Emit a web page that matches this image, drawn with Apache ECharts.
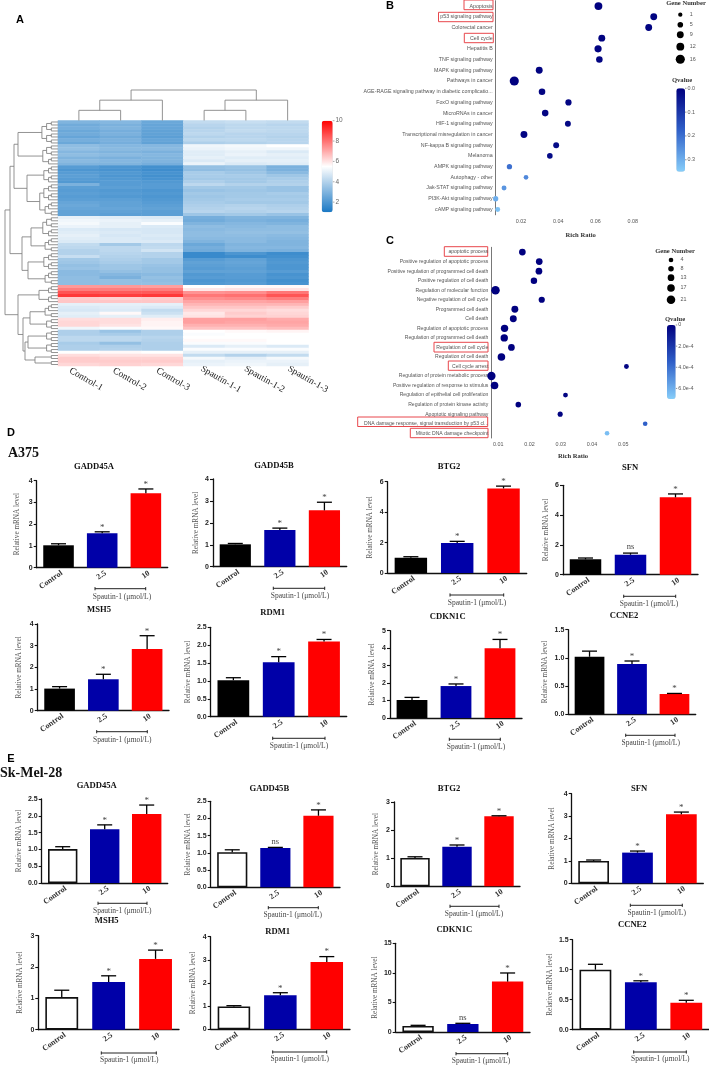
<!DOCTYPE html>
<html><head><meta charset="utf-8">
<style>html,body{margin:0;padding:0;background:#fff}#c{width:709px;height:1065px}</style>
<script src="https://cdn.jsdelivr.net/npm/echarts@6/dist/echarts.min.js"></script>
</head><body><div id="c"></div>
<script>
// ---------- DATA ----------
const heatColumns = ['Control-1','Control-2','Control-3','Spautin-1-1','Spautin-1-2','Spautin-1-3'];
const heatRows = [
[3.0,3.1,2.6,4.3,4.4,4.3],[2.7,2.9,2.5,4.1,4.2,4.1],[2.8,3.0,2.5,4.0,4.2,4.2],[2.6,2.8,2.4,4.1,4.3,4.2],
[2.7,2.9,2.4,4.2,4.1,4.1],[2.5,2.7,2.3,4.0,4.1,4.0],[2.8,2.9,2.5,4.2,4.2,4.1],[2.6,2.8,2.4,3.9,4.0,4.1],
[3.3,3.1,3.1,5.2,5.3,5.5],[3.4,3.2,3.2,5.1,5.2,5.2],[3.1,3.0,2.9,4.9,5.0,4.8],[3.3,3.2,3.1,4.9,5.1,5.0],
[3.0,2.9,3.0,5.0,4.9,4.9],[3.2,3.1,3.0,4.8,5.0,5.0],[3.0,3.0,2.8,5.1,4.8,4.9],[2.2,2.0,1.8,3.4,3.5,2.9],
[2.0,1.9,1.7,3.3,3.4,2.9],[2.2,2.1,1.9,3.8,3.6,3.2],[2.3,2.0,1.8,3.8,3.8,3.6],[2.2,2.1,1.9,3.7,3.7,3.8],
[2.1,2.2,2.1,3.9,3.7,3.9],[2.9,2.2,2.2,4.2,4.0,4.0],[2.3,2.3,2.2,3.7,3.7,3.5],[2.2,2.1,2.0,3.5,3.6,3.5],
[2.3,2.2,2.1,3.7,3.7,3.8],[2.2,2.1,2.0,3.6,3.7,3.7],[2.3,2.3,2.1,3.7,3.8,3.8],[2.5,2.4,2.2,3.8,3.7,3.7],
[2.6,2.4,2.3,3.9,4.0,3.9],[2.5,2.5,2.4,4.0,4.1,4.0],[2.4,2.4,2.3,4.1,4.0,4.1],[2.4,2.3,2.3,3.6,3.7,3.5],
[5.0,4.9,4.8,2.8,3.0,3.0],[5.2,5.1,5.0,2.7,2.9,2.8],[5.3,5.0,5.4,3.0,3.1,3.0],[5.1,5.0,4.8,3.3,3.2,3.3],
[4.8,4.7,4.7,3.2,3.3,3.3],[4.9,4.8,4.7,3.3,3.4,3.4],[5.0,4.7,4.8,3.3,3.3,3.2],[4.9,4.8,4.7,3.2,3.2,3.1],
[4.8,4.8,4.8,3.0,3.2,3.0],[4.3,3.7,4.2,2.6,3.0,3.0],[4.2,4.2,4.3,2.8,3.1,3.1],[4.0,4.2,4.6,2.7,3.0,2.9],
[4.0,4.1,4.0,1.6,2.0,1.7],[4.4,4.0,4.0,1.6,1.7,1.8],[3.7,3.9,3.7,2.2,2.4,2.0],[3.6,3.8,3.7,2.4,2.5,2.1],
[3.4,3.6,3.5,2.3,2.4,2.0],[3.5,3.6,3.4,2.2,2.3,2.0],[3.2,3.4,3.4,2.4,2.4,2.2],[3.2,3.1,3.2,2.1,2.2,1.9],
[3.3,2.9,3.4,2.2,2.2,2.0],[3.3,3.4,3.3,2.0,2.1,1.8],[3.3,3.4,3.4,2.1,2.2,1.9],[7.3,7.3,7.2,5.5,5.6,5.6],
[7.8,7.8,7.8,5.9,6.0,6.0],[8.5,8.4,8.4,7.4,7.5,7.9],[9.0,8.9,9.0,7.9,8.0,8.5],[6.4,6.3,6.4,7.5,7.6,7.8],
[6.5,6.5,6.5,7.1,7.1,7.2],[5.0,5.0,5.0,6.8,6.8,6.8],[4.8,4.9,4.8,6.5,6.5,6.4],[4.7,4.8,4.3,6.2,6.2,6.1],
[5.0,5.6,4.5,5.9,6.4,6.2],[4.9,5.0,4.9,6.0,6.3,6.3],[6.1,6.1,5.8,7.2,7.2,7.0],[6.2,6.1,5.7,7.2,7.1,7.1],
[6.2,6.0,5.7,6.9,6.9,7.0],[5.2,5.4,5.6,6.6,6.6,6.7],[3.9,3.5,3.9,5.5,5.6,5.7],[3.9,3.8,3.9,5.4,5.5,5.5],
[4.2,4.2,4.1,5.5,5.5,5.5],[4.2,4.2,4.0,5.6,5.6,5.5],[3.8,3.4,3.9,5.4,5.4,5.5],[3.9,3.9,3.9,4.8,5.0,4.8],
[3.9,4.0,3.9,5.4,5.4,5.4],[5.5,5.6,5.5,5.0,5.0,5.0],[6.1,6.0,6.0,4.3,4.0,4.3],[6.4,6.3,6.3,5.3,5.0,5.3],
[6.4,6.4,6.4,5.0,5.1,5.1],[6.2,6.3,6.2,5.1,5.2,5.0]];
// dendrogram trees: [height, left, right]; a two-item entry is a run of rows
const columnTree = [3,[2,[1,0,1],2],[2,[1,3,4],5]];
const rowTree = [53,
  [48,[44,[40,[0,7],[8,14]],[31,[15,20],[21,31]]],[36,[27,[32,38],[39,43]],[30,[44,49],[50,54]]]],
  [40,[19,[55,57],[58,60]],[35,[28,[61,65],[66,69]],[33,[30,[70,73],[74,77]],[23,[78,79],[80,81]]]]]];

const bCategories = ['Apoptosis','p53 signaling pathway','Colorectal cancer','Cell cycle','Hepatitis B','TNF signaling pathway','MAPK signaling pathway','Pathways in cancer','AGE-RAGE signaling pathway in diabetic complicatio...','FoxO signaling pathway','MicroRNAs in cancer','HIF-1 signaling pathway','Transcriptional misregulation in cancer','NF-kappa B signaling pathway','Melanoma','AMPK signaling pathway','Autophagy - other','Jak-STAT signaling pathway','PI3K-Akt signaling pathway','cAMP signaling pathway'];
const bRatio = [.0616,.0913,.0886,.0634,.0614,.0621,.0298,.0164,.0313,.0455,.0330,.0452,.0216,.0389,.0355,.0138,.0227,.0109,.0064,.0075];
const bGenes = [12,9,9,9,10,8,9,16,8,7,8,6,9,6,5,4,2,3,4,3];
const bQ = [.002,.005,.005,.003,.004,.008,.005,.002,.008,.01,.01,.015,.01,.02,.02,.2,.24,.26,.3,.33];
const bGeneLegend = [1,5,9,12,16];
const bQTicks = ['0.0','0.1','0.2','0.3'];

const cCategories = ['apoptotic process','Positive regulation of apoptotic process','Positive regulation of programmed cell death','Positive regulation of cell death','Regulation of molecular function','Negative regulation of cell cycle','Programmed cell death','Cell death','Regulation of apoptotic process','Regulation of programmed cell death','Regulation of cell cycle','Regulation of cell death','Cell cycle arrest','Regulation of protein metabolic process','Positive regulation of response to stimulus','Regulation of epithelial cell proliferation','Regulation of protein kinase activity','Apoptotic signaling pathway','DNA damage response, signal transduction by p53 cl...','Mitotic DNA damage checkpoint'];
const cRatio = [.0177,.0231,.0230,.0214,.0091,.0239,.0153,.0148,.0120,.0119,.0142,.0110,.0510,.0078,.0088,.0315,.0164,.0298,.0570,.0448];
const cGenes = [13,13,13,12,21,11,14,14,16,16,13,17,5,20,17,5,8,6,4,4];
const cQ = [0,0,0,0,0,0,0,0,0,0,0,0,.00002,0,0,.00002,0,.00001,.00035,.00065];
const cGeneLegend = [4,8,13,17,21];
const cQTicks = ['0','2.0e-4','4.0e-4','6.0e-4'];

const geneNames = ['GADD45A','GADD45B','BTG2','SFN','MSH5','RDM1','CDKN1C','CCNE2'];
const doseLabels = ['Control','2.5','10'];
const a375Means = [[1.03,1.58,3.42],[1.02,1.67,2.57],[1.01,1.97,5.56],[1.03,1.34,5.19],[1.02,1.45,2.85],[1.02,1.52,2.10],[1.03,1.83,3.99],[1.02,0.89,0.36]];
const a375Tops  = [[1.10,1.65,3.62],[1.06,1.76,2.94],[1.07,2.08,5.71],[1.12,1.45,5.42],[1.11,1.68,3.46],[1.09,1.68,2.16],[1.18,1.95,4.50],[1.12,0.945,0.37]];
const a375Marks = [['','*','*'],['','*','*'],['','*','*'],['','ns','*'],['','*','*'],['','*','*'],['','*','*'],['','*','*']];
const skMeans = [[1.01,1.60,2.05],[1.02,1.14,2.08],[1.01,1.41,2.49],[1.00,1.37,3.08],[1.04,1.52,2.26],[0.99,1.47,2.91],[1.02,1.35,8.52],[1.00,0.79,0.45]];
const skTops  = [[1.08,1.73,2.32],[1.09,1.16,2.25],[1.05,1.47,2.51],[1.04,1.44,3.18],[1.26,1.72,2.54],[1.02,1.58,3.14],[1.13,1.47,9.98],[1.09,0.815,0.49]];
const skMarks = [['','*','*'],['','ns','*'],['','*','*'],['','*','*'],['','*','*'],['','*','*'],['','ns','*'],['','*','*']];
const axisMax = [4,4,6,6,4,2.5,5,1.5, 2.5,2.5,3,4,3,4,15,1.5];
const axisStep = [1,1,2,2,1,.5,1,.5, .5,.5,1,1,1,1,5,.5];

// ---------- LAYOUT (pixels) ----------
// left, top, right, base, titleX, titleY, nameX, brX1, brX2, brY, capX, capY
const panelBox = [
[36.7,480.7,167.7,567.7, 94,467, 17, 95,145.7,588.7,122,597],
[213,479,346.7,566.7, 274,466, 196, 273.3,324.7,588.3,300,595.7],
[387.7,481.7,526.7,573, 449,467, 370, 450,503.7,595,477,603],
[563,485.3,698,574.7, 630,468, 546, 623.7,675.7,596.3,649,604],
[37.7,624,169,710.7, 99,610, 19, 96.7,147.3,731.7,122.3,740],
[210.7,627.3,346.7,716.7, 272.7,613, 188, 272.7,325,738.3,299,745.7],
[390,630.7,522,718, 447.7,616.7, 372, 449.3,500.3,739.3,476,747],
[568.3,629.7,695.7,714.3, 624,616, 545, 625.7,675,735.3,650.7,743.3],
[41.7,799,167.7,883, 96.7,785.3, 18.3, 98,147,903.3,122.3,911],
[210.7,801.3,340,887.3, 269.3,788.3, 187.3, 268.3,318.3,907.7,292.7,915.3],
[394,802,520,886.3, 449,789, 376, 450,499,906.3,474,913.7],
[571.7,793.7,703.3,883.3, 639,788.3, 551.7, 630.3,682.3,905.3,656.7,913],
[38.3,935.7,179,1029.7, 106.7,921, 20, 101.3,156.3,1053,129.3,1060.3],
[210.7,936.7,350,1029.3, 277.7,932, 192.3, 272.7,326.7,1052,299.7,1059.3],
[395.7,943.3,530,1032, 454.3,930, 374.3, 456,507.7,1053.7,481,1061.3],
[572.7,939.7,709,1029.7, 632.3,925, 550, 633.7,686.3,1052,660.3,1059.3]];

const serif = '"Liberation Serif",serif', sans = '"Liberation Sans",Arial,sans-serif';
const grids=[], xAxes=[], yAxes=[], series=[], visualMaps=[], graphics=[];
const text=(t,x,y,o={})=>graphics.push({type:'text',x,y,silent:true,rotation:o.rot||0,style:{text:t,x:0,y:0,fill:o.fill||'#222',
  font:(o.weight||'normal')+' '+(o.size||7)+'px '+(o.family||serif),textAlign:o.align||'center',textVerticalAlign:'middle'}});
const line=(x1,y1,x2,y2,c,w)=>graphics.push({type:'line',silent:true,shape:{x1,y1,x2,y2},style:{stroke:c||'#111',lineWidth:w||1}});
const redBox=(x1,y1,x2,y2)=>graphics.push({type:'rect',silent:true,shape:{x:x1,y:y1,width:x2-x1,height:y2-y1},style:{fill:'none',stroke:'#e8474c',lineWidth:1}});
function addGrid(l,t,r,b){grids.push({left:l,top:t,width:r-l,height:b-t,containLabel:false});return grids.length-1;}
const segRender=(w,c)=>(p,api)=>{const a=api.coord([api.value(0),api.value(1)]),b=api.coord([api.value(2),api.value(3)]);
  const fine=w.fine&&Math.max(api.value(w.hDims[0]),api.value(w.hDims[1]))<5;
  return {type:'line',shape:{x1:a[0],y1:a[1],x2:b[0],y2:b[1]},style:{stroke:fine?'#a0a0a0':c,lineWidth:fine?2.4:.85}};};

// ---------- A: heatmap ----------
const g0=addGrid(58,120.5,308.5,366);
xAxes.push({type:'category',gridIndex:g0,data:heatColumns,show:false});
yAxes.push({type:'category',gridIndex:g0,data:heatRows.map((_,i)=>i),inverse:true,show:false});
const heatData=[];heatRows.forEach((r,i)=>r.forEach((v,j)=>heatData.push([j,i,v])));
series.push({type:'heatmap',xAxisIndex:0,yAxisIndex:0,data:heatData,silent:true});
visualMaps.push({type:'continuous',seriesIndex:0,dimension:2,min:1,max:10,left:321.7,top:120.7,itemWidth:11,itemHeight:91.6,padding:0,text:['',''],
  calculable:false,hoverLink:false,inRange:{color:['#1a78c4','#ffffff','#ff0000']}});
['10','8','6','4','2'].forEach(t=>{const y=120.7+(10-(+t))/9*91.6;line(332.7,y,334.5,y,'#888',.7);text(t,335.5,y,{size:6.5,family:sans,fill:'#666',align:'left'});});
heatColumns.forEach((c,i)=>text(c,70+i*43.5-(i>2?-1:0),370+(i>2?-2:0),{size:9.5,rot:-Math.PI/6,align:'left',fill:'#222'}));

function flatten(n,segs,h0){ // returns [row, height]
  if(typeof n==='number')return [n,0];
  if(n.length===2){const [s,e]=n;
    if(s===e)return [s,0];
    const m=s+Math.ceil((e-s+1)/2)-1,c=e-s+1,h=2+4.7*Math.log2(c);
    return join(flatten([s,m],segs),flatten([m+1,e],segs),h,segs);}
  return join(flatten(n[1],segs),flatten(n[2],segs),n[0],segs);
}
function join(a,b,h,segs){segs.push([a[1],a[0],h,a[0]],[b[1],b[0],h,b[0]],[h,a[0],h,b[0]]);return [(a[0]+b[0])/2,h];}
const rowSegs=[];flatten(rowTree,rowSegs);
const g1=addGrid(0,120.5,58,366);
xAxes.push({type:'value',gridIndex:g1,min:0,max:58,inverse:true,show:false});
yAxes.push({type:'value',gridIndex:g1,min:-.5,max:81.5,inverse:true,show:false});
series.push({type:'custom',xAxisIndex:1,yAxisIndex:1,silent:true,clip:false,data:rowSegs,encode:{x:[0,2],y:[1,3]},
  renderItem:segRender({fine:true,hDims:[0,2]},'#808080')});
const colSegs=[];
(function walk(n){ if(typeof n==='number')return [n,0];
  const a=walk(n[1]),b=walk(n[2]),h=n[0];
  colSegs.push([a[0],a[1],a[0],h],[b[0],b[1],b[0],h],[a[0],h,b[0],h]);return [(a[0]+b[0])/2,h];})(columnTree);
const g2=addGrid(58,90,308.5,120.5);
xAxes.push({type:'value',gridIndex:g2,min:-.5,max:5.5,show:false});
yAxes.push({type:'value',gridIndex:g2,min:0,max:3,show:false});
series.push({type:'custom',xAxisIndex:2,yAxisIndex:2,silent:true,clip:false,data:colSegs,encode:{x:[0,2],y:[1,3]},
  renderItem:segRender({},'#808080')});

// ---------- B, C: bubble plots ----------
function bubble(o){
  const g=addGrid(o.left,o.top,o.right,o.bottom),idx=xAxes.length;
  xAxes.push({type:'value',gridIndex:g,min:o.min,max:o.max,splitLine:{show:false},
    axisLine:{lineStyle:{color:'#555',width:.8}},axisTick:{length:2,lineStyle:{color:'#555',width:.8},customValues:[o.min].concat(o.ticks,[o.max])},
    axisLabel:{customValues:o.ticks,margin:4,fontSize:5.4,color:'#555',fontFamily:sans,formatter:v=>v.toFixed(2)}});
  yAxes.push({type:'category',gridIndex:g,data:o.cats,inverse:true,splitLine:{show:false},
    axisLine:{lineStyle:{color:'#555',width:.8}},axisTick:{length:2,alignWithLabel:true,lineStyle:{color:'#555',width:.8}},
    axisLabel:{interval:0,margin:3,fontSize:o.font,color:'#555',fontFamily:sans}});
  const si=series.length;
  series.push({type:'scatter',xAxisIndex:idx,yAxisIndex:idx,silent:true,clip:false,itemStyle:{opacity:1},
    data:o.cats.map((_,i)=>[o.ratio[i],i,o.q[i],o.genes[i]]),symbolSize:v=>o.size(v[3]),encode:{x:0,y:1}});
  visualMaps.push({type:'continuous',seriesIndex:si,dimension:2,min:0,max:o.qMax,inverse:true,left:o.barX,top:o.barY,itemWidth:o.barW,itemHeight:o.barH,padding:0,text:['',''],
    calculable:false,hoverLink:false,inRange:{color:['#00007f','#2f5fc8','#87cefa']}});
  o.qTicks.forEach((t,i)=>{const y=o.barY+o.qStep*i/o.qMax*o.barH;line(o.barX+o.barW,y,o.barX+o.barW+1.5,y,'#666',.7);text(t,o.barX+o.barW+2.5,y,{size:5.4,family:sans,fill:'#555',align:'left'});});
  o.legend.forEach((n,i)=>{graphics.push({type:'circle',silent:true,shape:{cx:o.legX,cy:o.legY[i],r:o.size(n)/2},style:{fill:'#000'}});
    text(String(n),o.legX+9.5,o.legY[i],{size:5.4,family:sans,fill:'#555',align:'left'});});
  text('Gene Number',o.gnX,o.gnY,{size:6.6,weight:'bold',fill:'#333'});
  text('Qvalue',o.qX,o.qY,{size:6.6,weight:'bold',fill:'#333'});
  text('Rich Ratio',o.rrX,o.rrY,{size:6.6,weight:'bold',fill:'#333'});
}
bubble({left:495.7,top:.7,right:654.3,bottom:214.8,min:.00642,max:.0916,ticks:[.02,.04,.06,.08],cats:bCategories,ratio:bRatio,q:bQ,genes:bGenes,font:5.3,
  size:g=>4+g*.32,qMax:.35,qStep:.1,qTicks:bQTicks,barX:676.3,barY:88.3,barW:8.7,barH:83.4,legend:bGeneLegend,legX:680.3,legY:[14.7,24.7,34.7,46.7,59.3],
  gnX:686,gnY:3.5,qX:682,qY:80.7,rrX:580.7,rrY:235});
bubble({left:491.3,top:247.3,right:645.3,bottom:438,min:.00776,max:.05704,ticks:[.01,.02,.03,.04,.05],cats:cCategories,ratio:cRatio,q:cQ,genes:cGenes,font:5.1,
  size:g=>3.7+g*.23,qMax:.0007,qStep:.0002,qTicks:cQTicks,barX:667,barY:325,barW:8.7,barH:74,legend:cGeneLegend,legX:671,legY:[260,268.7,277.7,288,299.7],
  gnX:675,gnY:251,qX:675,qY:319,rrX:573,rrY:456.7});
[[464,0,493,9.7],[438.5,12.3,493,21.7],[464.3,33.3,493.3,42.7],[444.3,246.7,487.7,256.3],[434,342.3,488,352],[448.3,361,488,370.3],[357.7,417,487.7,426.5],[410.3,428.3,488,437.7]]
  .forEach(b=>redBox(b[0],b[1],b[2],b[3]));

// ---------- D, E: bar panels ----------
const barColors=['#000000','#0000a8','#ff0000'];
panelBox.forEach((b,k)=>{
  const sk=k>=8,j=k%8,means=(sk?skMeans:a375Means)[j],tops=(sk?skTops:a375Tops)[j],marks=(sk?skMarks:a375Marks)[j];
  const [l,t,r,base,tx,ty,nx,b1,b2,by,cx,cy]=b;
  const g=addGrid(l,t,r,base),idx=xAxes.length,step=axisStep[k];
  xAxes.push({type:'category',gridIndex:g,data:doseLabels,
    axisLine:{lineStyle:{color:'#111',width:1.3}},axisTick:{alignWithLabel:true,length:3,lineStyle:{color:'#111',width:1.1}},
    axisLabel:{interval:0,rotate:35,margin:7,padding:[0,-4,0,0],fontSize:8,color:'#333',fontFamily:serif,fontWeight:'bold'}});
  yAxes.push({type:'value',gridIndex:g,min:0,max:axisMax[k],interval:step,splitLine:{show:false},
    axisLine:{show:true,lineStyle:{color:'#111',width:1.3}},axisTick:{show:true,length:3,lineStyle:{color:'#111',width:1.1}},
    axisLabel:{margin:4,fontSize:7,fontWeight:'bold',color:'#222',fontFamily:sans,formatter:v=>step<1?v.toFixed(1):String(v)},
    name:'Relative mRNA level',nameLocation:'middle',nameRotate:90,nameGap:l-nx-4,nameTextStyle:{fontSize:7.2,color:'#555',fontFamily:serif}});
  series.push({type:'bar',xAxisIndex:idx,yAxisIndex:idx,silent:true,barWidth:'70%',
    data:means.map((v,i)=>({value:v,itemStyle:(sk&&i===0)?{color:'#fff',borderColor:'#111',borderWidth:1.6}:{color:barColors[i]}}))});
  series.push({type:'custom',xAxisIndex:idx,yAxisIndex:idx,silent:true,clip:false,z:3,
    data:tops.map((v,i)=>[i,v,means[i]]),encode:{x:0,y:1},
    renderItem:(p,api)=>{const a=api.coord([api.value(0),api.value(1)]),m=api.coord([api.value(0),api.value(2)]),kids=[
      {type:'line',shape:{x1:a[0],y1:a[1],x2:a[0],y2:m[1]},style:{stroke:'#000',lineWidth:1.3}},
      {type:'line',shape:{x1:a[0]-7.5,y1:a[1],x2:a[0]+7.5,y2:a[1]},style:{stroke:'#000',lineWidth:1.3}}];
      const mk=marks[p.dataIndex];
      if(mk)kids.push({type:'text',style:{text:mk,x:a[0],y:a[1]-(mk==='ns'?1.5:0),fill:'#444',font:(mk==='ns'?'8.5px ':'9px ')+serif,textAlign:'center',textVerticalAlign:'bottom'}});
      return {type:'group',children:kids};}});
  text(geneNames[j],tx,ty,{size:8.6,weight:'bold',fill:'#111'});
  line(b1,by,b2,by,'#222',1);line(b1,by-1.6,b1,by+1.6,'#222',1);line(b2,by-1.6,b2,by+1.6,'#222',1);
  text('Spautin-1 (\u03bcmol/L)',cx,cy,{size:7.5,fill:'#444'});
});

// panel letters and cell-line headings
[['A',20,20],['B',390,5.5],['C',390,241],['D',11,433],['E',11,758.5]].forEach(p=>text(p[0],p[1],p[2],{size:11,weight:'bold',family:sans,fill:'#000'}));
text('A375',8,453,{size:14,weight:'bold',align:'left',fill:'#111'});
text('Sk-Mel-28',0,773.5,{size:14,weight:'bold',align:'left',fill:'#111'});

echarts.init(document.getElementById('c'),null,{renderer:'canvas'}).setOption({
  animation:false,backgroundColor:'#fff',grid:grids,xAxis:xAxes,yAxis:yAxes,series,visualMap:visualMaps,graphic:graphics
});
</script></body></html>
